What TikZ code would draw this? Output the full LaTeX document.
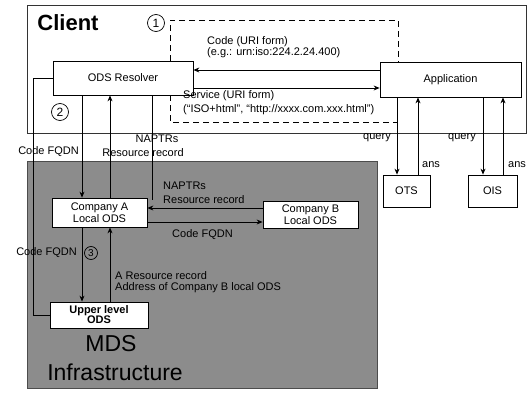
\documentclass[tikz,border=0pt]{standalone}
\usepackage{fontspec}
\setmainfont{Liberation Sans}
\usetikzlibrary{arrows.meta}
\begin{document}
\begin{tikzpicture}[x=1pt,y=-1pt,
  every node/.style={font=\fontsize{11}{12}\selectfont, text=black},
  box/.style={draw=black, fill=white, line width=0.8pt, inner sep=1pt, align=center},
  lbl/.style={inner sep=0pt, align=left},
  arr/.style={-{Stealth[length=6pt,width=5pt]}, line width=0.8pt},
  ln/.style={line width=0.8pt},
  dsh/.style={line width=0.8pt, dash pattern=on 6pt off 4pt},
  num/.style={draw, circle, inner sep=0.5pt, minimum size=17pt, line width=0.7pt, font=\fontsize{12}{12}\selectfont}
]
\useasboundingbox (0,0) rectangle (530,396);
\fill[white] (0,0) rectangle (530,396);

% containers
\draw[line width=0.8pt, black!80] (27,5) rectangle (526,133);
\fill[black!45] (27,161) rectangle (377,388);
\draw[line width=0.6pt, black!70] (27,161) rectangle (377,388);

% helper coordinates
\coordinate (yc) at (0,70);
\coordinate (ys) at (0,88);
\coordinate (d1a) at (170,20);
\coordinate (d1b) at (398,20);
\coordinate (d2a) at (170,122);
\coordinate (d2b) at (397,122);
\coordinate (xa) at (82,0);
\coordinate (xb) at (110,0);
\coordinate (xc) at (152,0);
\coordinate (xcEnd) at (152,200);
\coordinate (xl) at (33,0);
\coordinate (ya) at (0,208);
\coordinate (yb) at (0,222);
\coordinate (o1) at (397,0);
\coordinate (o2) at (418,0);
\coordinate (o3) at (483,0);
\coordinate (o4) at (503,0);

% boxes
\node[box, minimum width=140pt, minimum height=34pt] (res) at (123,78) {ODS Resolver};
\node[box, minimum width=141pt, minimum height=35pt] (app) at (450.5,79.5) {Application};
\node[box, minimum width=47pt, minimum height=32pt] (ots) at (406.5,191) {OTS};
\node[box, minimum width=49pt, minimum height=32pt] (ois) at (492.5,191) {OIS};
\node[box, minimum width=95pt, minimum height=29pt] (compA) at (99.5,212.5) {Company A\\Local ODS};
\node[box, minimum width=95pt, minimum height=27pt] (compB) at (310.5,214.5) {Company B\\Local ODS};
\node[box, minimum width=98pt, minimum height=26pt, font=\bfseries\fontsize{11}{10}\selectfont] (upper) at (99,315) {Upper level\\ODS};

% titles
\node[font=\bfseries\fontsize{22}{22}\selectfont, inner sep=0pt] (client) at (68,23) {Client};
\node[font=\fontsize{23}{23}\selectfont, inner sep=0pt] (mds) at (111,344) {MDS};
\node[font=\fontsize{23}{23}\selectfont, inner sep=0pt] (infra) at (115,372) {Infrastructure};
\node[num] (n1) at (156,23) {1};
\node[num] (n2) at (60,112) {2};

% dashed brackets
\draw[dsh] (res.north -| d1a) -- (d1a) -- (d1b) -- (app.north -| d1b);
\draw[dsh] (res.south -| d2a) -- (d2a) -- (d2b) -- (app.south -| d2b);

% resolver <-> application
\draw[arr] (app.west |- yc) -- (res.east |- yc);
\draw[arr] (res.east |- ys) -- (app.west |- ys);
\node[lbl, anchor=west] (lc1) at (207,42) {Code (URI form)};
\node[lbl, anchor=west] (lc2) at (207,53) {(e.g.: urn:iso:224.2.24.400)};
\node[lbl, anchor=west] (ls1) at (183,96) {Service (URI form)};
\node[lbl, anchor=west] (ls2) at (183,110) {(“ISO+html”, “http://xxxx.com.xxx.html”)};

% resolver <-> company A
\draw[ln] (res.west) -| (xl |- upper.west) -- (upper.west);
\draw[arr] (res.south -| xa) -- (compA.north -| xa);
\draw[arr] (compA.north -| xb) -- (res.south -| xb);
\draw[ln] (res.south -| xc) -- (xcEnd);
\node[lbl, anchor=east] (lq1) at (79,152) {Code FQDN};
\node[lbl, anchor=center] (lr1) at (157,139) {NAPTRs};
\node[lbl, anchor=center] (lr2) at (143,153) {Resource record};

% company A <-> company B
\draw[arr] (compB.west |- ya) -- (compA.east |- ya);
\draw[arr] (compA.east |- yb) -- (compB.west |- yb);
\node[lbl, anchor=west] (lr3) at (163,186) {NAPTRs};
\node[lbl, anchor=west] (lr4) at (163,200) {Resource record};
\node[lbl, anchor=west] (lq2) at (172,235) {Code FQDN};

% company A <-> upper
\draw[arr] (compA.south -| xa) -- (upper.north -| xa);
\draw[arr] (upper.north -| xb) -- (compA.south -| xb);
\node[lbl, anchor=east] (lq3) at (77,253) {Code FQDN};
\node[num, minimum size=13pt, font=\fontsize{10}{10}\selectfont] (n3) at (91,253) {3};
\node[lbl, anchor=west] (la1) at (115,276) {A Resource record};
\node[lbl, anchor=west] (la2) at (115,288) {Address of Company B local ODS};

% application <-> OTS / OIS
\draw[arr] (app.south -| o1) -- (ots.north -| o1);
\draw[arr] (ots.north -| o2) -- (app.south -| o2);
\draw[arr] (app.south -| o3) -- (ois.north -| o3);
\draw[arr] (ois.north -| o4) -- (app.south -| o4);
\node[lbl] (q1) at (377,138) {query};
\node[lbl] (q2) at (462,138) {query};
\node[lbl] (a1) at (431,165) {ans};
\node[lbl] (a2) at (517,165) {ans};
\end{tikzpicture}
\end{document}
